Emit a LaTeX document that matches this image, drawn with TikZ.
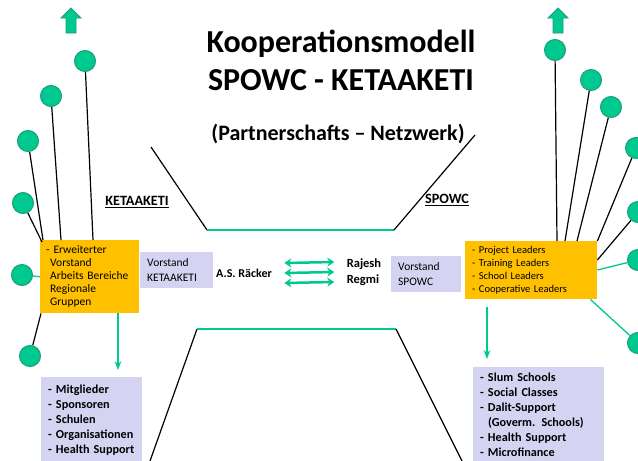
\documentclass[tikz,border=0pt]{standalone}
\usepackage{fontspec}
\setmainfont{Carlito}
\usetikzlibrary{arrows.meta,positioning}
\definecolor{netgreen}{RGB}{0,200,145}
\definecolor{netgreendk}{RGB}{25,160,115}
\definecolor{boxorange}{RGB}{255,192,0}
\definecolor{boxlilac}{RGB}{212,212,242}

\begin{document}
\begin{tikzpicture}[x=1pt,y=-1pt,>=Stealth,
  dot/.style={circle,fill=netgreen,draw=netgreendk,line width=1pt,minimum size=21pt,inner sep=0pt},
  spoke/.style={black,line width=1.2pt},
  gspoke/.style={netgreen,line width=1.3pt},
  orangebox/.style={fill=boxorange,anchor=north west,align=left,inner xsep=7pt,inner ysep=0pt,font=\fontsize{10.5}{13}\selectfont},
  lilacbox/.style={fill=boxlilac,anchor=north west,align=left,inner xsep=7pt,inner ysep=0pt,font=\fontsize{11.5}{15}\selectfont},
  listbox/.style={lilacbox,font=\bfseries\fontsize{12.2}{15}\selectfont},
  uparrow/.style={fill=netgreen,draw=netgreendk,line width=0.8pt},
  dbl/.style={{Stealth[length=7pt,width=9pt]}-{Stealth[length=7pt,width=9pt]},netgreen,line width=2.5pt}]
  \useasboundingbox (0,0) rectangle (638,461);
  \clip (0,0) rectangle (638,461);

  \node[font=\bfseries\fontsize{32}{32}\selectfont] (title) at (341,44) {Kooperationsmodell};
  \node[font=\bfseries\fontsize{32}{32}\selectfont] (title2) at (341,80) {SPOWC - KETAAKETI};
  \node[font=\bfseries\fontsize{22}{22}\selectfont] (sub) at (338,134) {(Partnerschafts -- Netzwerk)};

  \coordinate (tl) at (151,147);
  \coordinate (tm1) at (207,230);
  \coordinate (tm2) at (394,230);
  \coordinate (tr) at (475,135);
  \coordinate (bl) at (150,461);
  \coordinate (bm1) at (197,329);
  \coordinate (bm2) at (396,329);
  \coordinate (br) at (462,461);
  \draw[spoke] (tl) -- (tm1);
  \draw[gspoke,line width=2pt] (tm1) -- (tm2);
  \draw[spoke] (tm2) -- (tr);
  \draw[spoke] (bl) -- (bm1);
  \draw[gspoke,line width=2pt] (bm1) -- (bm2);
  \draw[spoke] (bm2) -- (br);

  \node[font=\bfseries\fontsize{14.2}{14}\selectfont] (klabel) at (137,202) {\underline{KETAAKETI}};
  \node[font=\bfseries\fontsize{14.2}{14}\selectfont] (slabel) at (447,200) {\underline{SPOWC}};

  \coordinate (lup) at (71,8);
  \coordinate (rup) at (558,8);
  \foreach \c in {lup,rup}
    \draw[uparrow] (\c) -- ++(10,10) -- ++(-5,0) -- ++(0,15) -- ++(-10,0) -- ++(0,-15) -- ++(-5,0) -- cycle;

  \node[dot] (l1) at (85,61) {};
  \node[dot] (l2) at (51,96) {};
  \node[dot] (l3) at (28,141) {};
  \node[dot] (l4) at (23,203) {};
  \node[dot] (l5) at (22,275) {};
  \node[dot] (l6) at (30,356) {};
  \node[dot] (r1) at (555,50) {};
  \node[dot] (r2) at (591,80) {};
  \node[dot] (r3) at (611,107) {};
  \node[dot] (r4) at (636,148) {};
  \node[dot] (r5) at (638,212) {};
  \node[dot] (r6) at (638,260) {};
  \node[dot] (r7) at (638,343) {};

  \node[orangebox,font=\fontsize{11.5}{13}\selectfont,inner xsep=6pt,text width=87pt,minimum height=73pt] (kbox) at (40,240)
     {- Erweiterter\\\hspace*{4pt}Vorstand\\\hspace*{4pt}Arbeits Bereiche\\\hspace*{4pt}Regionale\\\hspace*{4pt}Gruppen};
  \node[lilacbox,text width=59pt,minimum height=36pt] (kvor) at (140,252) {Vorstand\\KETAAKETI};
  \node[lilacbox,text width=56pt,minimum height=36pt] (svor) at (391,256) {Vorstand\\SPOWC};
  \node[orangebox,text width=118pt,minimum height=58pt] (sbox) at (465,241)
     {- Project Leaders\\- Training Leaders\\- School Leaders\\- Cooperative Leaders};
  \node[listbox,text width=87pt,minimum height=86pt] (klist) at (41,377)
     {- Mitglieder\\- Sponsoren\\- Schulen\\- Organisationen\\- Health Support};
  \node[listbox,text width=117pt,minimum height=96pt] (slist) at (473,367)
     {- Slum Schools\\- Social Classes\\- Dalit-Support\\\phantom{- }(Goverm. Schools)\\- Health Support\\- Microfinance};

  \node[font=\bfseries\fontsize{12}{12}\selectfont] (asr) at (244,273) {A.S. Räcker};
  \node[font=\bfseries\fontsize{12.5}{16}\selectfont,align=left] (rr) at (364,272) {Rajesh\\Regmi};
  \foreach \dy in {10,0,-10}
    \draw[dbl] ([xshift=9pt,yshift=\dy pt]asr.east) -- ([xshift=-9pt,yshift=\dy pt]rr.west);

  \draw[spoke] (l1) -- ([xshift=53pt]kbox.north west);
  \draw[spoke] (l2) -- ([xshift=21pt]kbox.north west);
  \draw[spoke] (l3) -- ([xshift=3pt]kbox.north west);
  \draw[spoke] (l4) -- ([xshift=2pt,yshift=-2pt]kbox.north west);
  \draw[gspoke] (l5) -- (kbox.west);
  \draw[spoke] (l6) -- ([xshift=1pt]kbox.south west);
  \draw[spoke] (r1) -- ([xshift=92pt]sbox.north west);
  \draw[spoke] (r2) -- ([xshift=100pt]sbox.north west);
  \draw[spoke] (r3) -- ([xshift=112pt]sbox.north west);
  \draw[spoke] (r4) -- (sbox.north east);
  \draw[spoke] (r5) -- ([yshift=-19pt]sbox.north east);
  \draw[gspoke] (r6) -- ([yshift=-29pt]sbox.north east);
  \draw[gspoke] (r7) -- ([xshift=-7pt]sbox.south east);

  \draw[gspoke,->] ([xshift=78pt]kbox.south west) -- ([xshift=77pt,yshift=7pt]klist.north west);
  \draw[gspoke,->] ([xshift=22pt,yshift=-8pt]sbox.south west) -- ([xshift=14pt,yshift=8pt]slist.north west);
\end{tikzpicture}
\end{document}
